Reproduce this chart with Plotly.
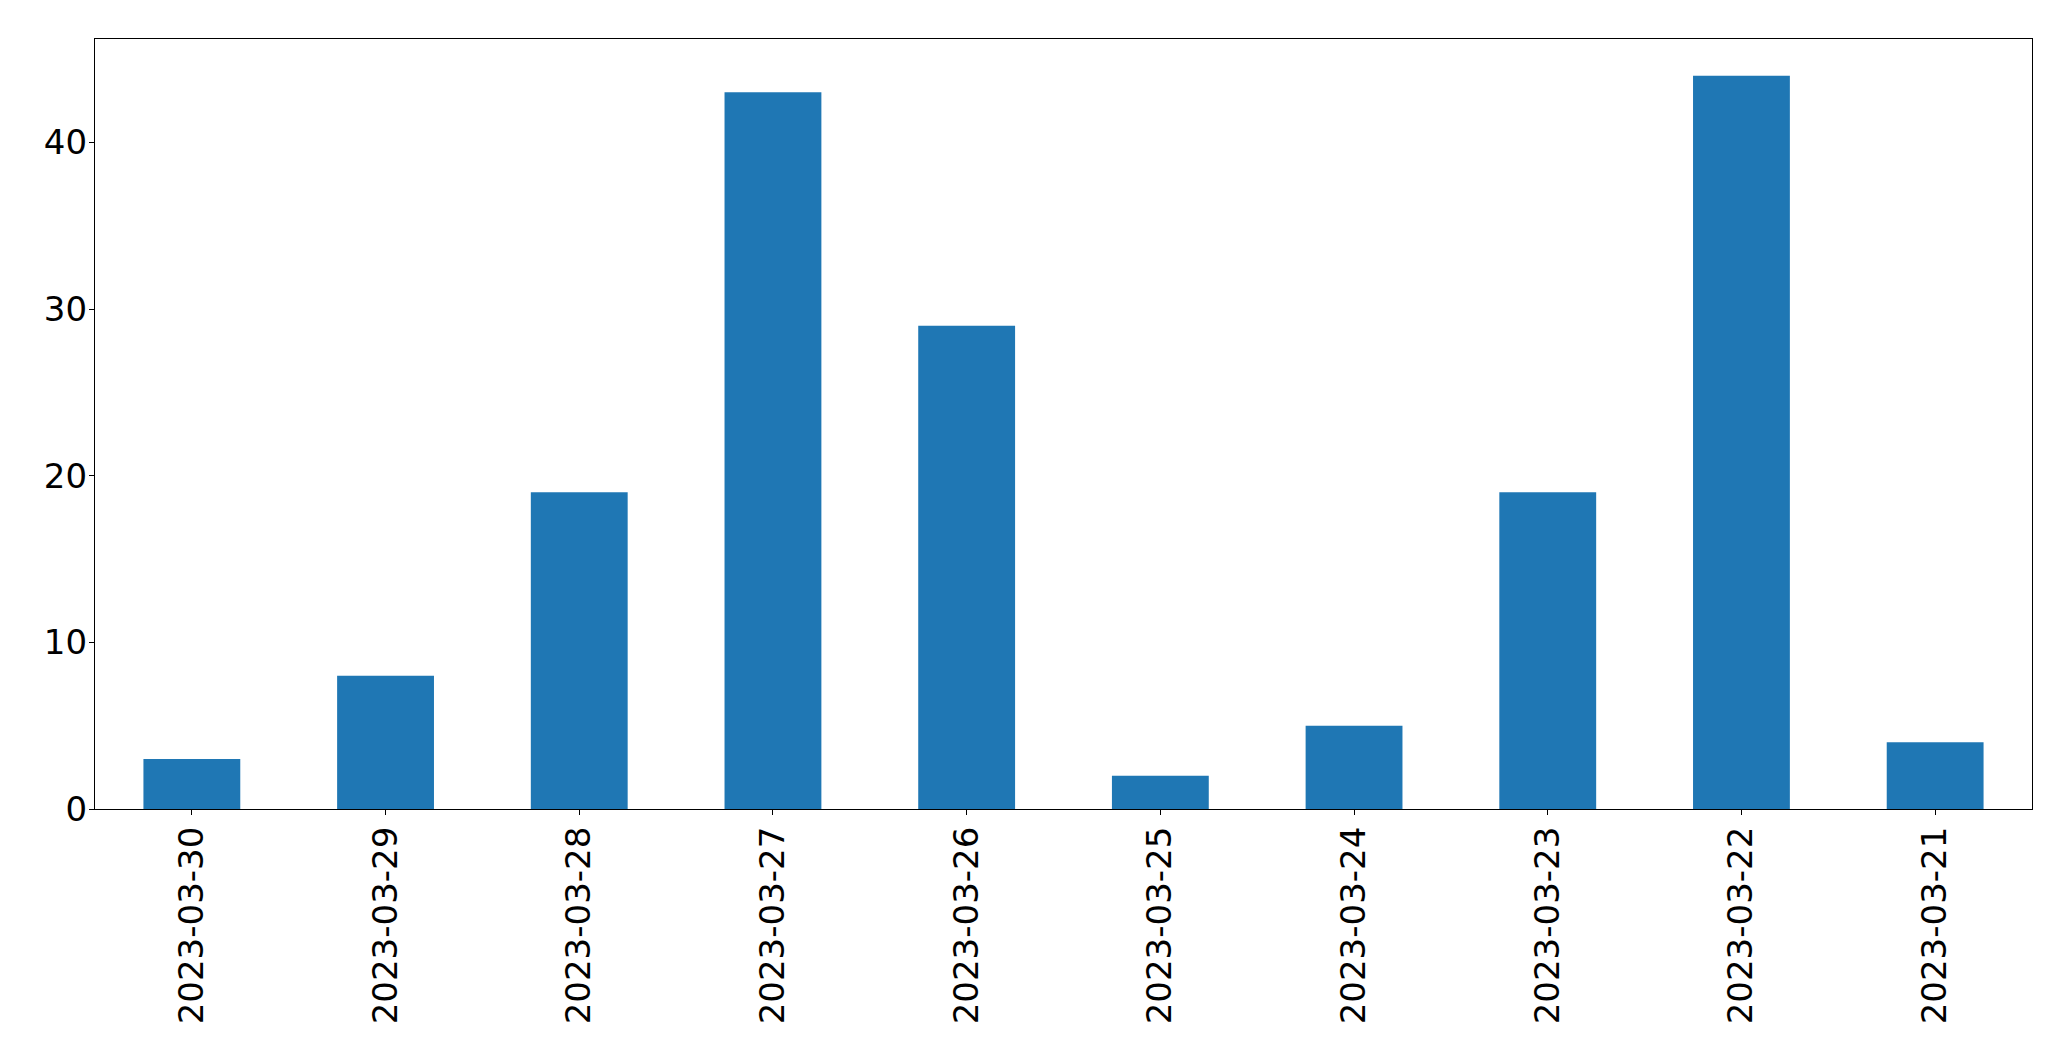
import plotly.graph_objects as go

dates = ["2023-03-30", "2023-03-29", "2023-03-28", "2023-03-27", "2023-03-26",
         "2023-03-25", "2023-03-24", "2023-03-23", "2023-03-22", "2023-03-21"]
counts = [3, 8, 19, 43, 29, 2, 5, 19, 44, 4]
y_ticks = [0, 10, 20, 30, 40]

fig = go.Figure(go.Bar(x=dates, y=counts, marker=dict(color="#1f77b4", line=dict(width=0)),
                       width=0.5))

font = dict(family="DejaVu Sans", size=34, color="black")
fig.update_layout(
    width=2071, height=1061,
    margin=dict(l=95, r=39, t=39, b=252),
    paper_bgcolor="white", plot_bgcolor="white",
    showlegend=False,
    font=font,
)
fig.update_xaxes(
    type="category", range=[-0.5, len(dates) - 0.5],
    tickangle=-90, tickfont=font,
    showline=True, mirror=True, linecolor="black", linewidth=1.2,
    ticks="outside", ticklen=5, tickwidth=1.2, tickcolor="black",
    showgrid=False, zeroline=False, ticklabelstandoff=-2,
)
fig.update_yaxes(
    range=[0, max(counts) * 1.05], tickvals=y_ticks, tickfont=font,
    showline=True, mirror=True, linecolor="black", linewidth=1.2,
    ticks="outside", ticklen=5, tickwidth=1.2, tickcolor="black",
    showgrid=False, zeroline=False, ticklabelstandoff=-5,
)

fig.write_html("out.html")
